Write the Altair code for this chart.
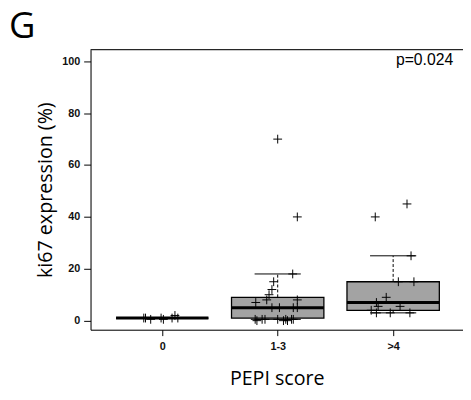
import altair as alt
import pandas as pd

# ---- summary statistics per PEPI score group ----
groups = ["0", "1-3", ">4"]
positions = [1, 2, 3]
q1 = [1, 1, 4]
median = [1, 5, 7]
q3 = [1, 9, 15]
whisker_low = [1, 0.5, 3]
whisker_high = [1, 18, 25]

# ---- individual observations (ki67 %) and horizontal jitter (category units) ----
g0_values = [1, 1, 0.5, 1, 0.5, 1, 2, 1]
g0_jitter = [-0.16, -0.145, -0.10, -0.01, 0.01, 0.085, 0.11, 0.135]
g1_values = [70, 40, 18, 15, 12, 10, 8, 7, 8, 5, 5, 5, 5,
             0.5, 0, 0.5, 0.5, 0.5, 0, 0.5, 0, 0.5, 0.5]
g1_jitter = [0, 0.17, 0.13, -0.035, -0.05, -0.075, -0.095, -0.19, 0.17,
             -0.05, 0.015, 0.135, 0.17,
             -0.195, -0.18, -0.135, -0.11, 0, 0.05, 0.07, 0.085, 0.12, 0.135]
g2_values = [45, 40, 25, 15, 15, 9, 7, 5.5, 5.5, 4, 3, 3, 3]
g2_jitter = [0.12, -0.155, 0.155, 0.045, 0.18, -0.06, -0.145, -0.13, 0.06,
             -0.19, -0.145, -0.025, 0.145]

y_ticks = [0, 20, 40, 60, 80, 100]
panel_label = "G"
p_text = "p=0.024"

box_df = pd.DataFrame({
    "group": groups, "pos": positions, "q1": q1, "median": median,
    "q3": q3, "lo": whisker_low, "hi": whisker_high,
})

pts = []
for p, vals, jit in zip(positions, [g0_values, g1_values, g2_values],
                        [g0_jitter, g1_jitter, g2_jitter]):
    for v, j in zip(vals, jit):
        pts.append({"pos": p, "jit": j, "value": v})
pts_df = pd.DataFrame(pts)

W, H = 379, 285
xscale = alt.Scale(domain=[0.379, 3.605], nice=False, zero=False)
yscale = alt.Scale(domain=[-3.5, 104.5], nice=False, zero=False)

label_expr = " : ".join(
    f"datum.value == {p} ? '{g}'" for p, g in zip(positions, groups)
) + " : ''"

x_axis = alt.Axis(
    values=positions, labelExpr=label_expr, orient="bottom",
    tickSize=6, tickColor="black", domainColor="black",
    labelFont="Liberation Sans", labelFontSize=11, labelFontWeight="bold",
    labelColor="#111", labelPadding=5, grid=False,
    title="PEPI score", titleFont="Open Sans", titleFontSize=20,
    titleFontWeight="normal", titleColor="black", titleY=50,
    titleBaseline="middle",
)
y_axis = alt.Axis(
    values=y_ticks, tickSize=7, tickColor="black", domainColor="black",
    labelFont="Liberation Sans", labelFontSize=11, labelFontWeight="bold",
    labelColor="#111", labelPadding=4, grid=False,
    title="ki67 expression (%)", titleFont="Open Sans", titleFontSize=20,
    titleFontWeight="normal", titleColor="black", titleX=-46,
    titleBaseline="middle",
)

base = alt.Chart(box_df).transform_calculate(
    xl="datum.pos - 0.4", xr="datum.pos + 0.4",
    cl="datum.pos - 0.2", cr="datum.pos + 0.2",
)

box = base.mark_bar(fill="#a3a3a3", stroke="black", strokeWidth=1.3).encode(
    x=alt.X("xl:Q", scale=xscale), x2="xr:Q",
    y=alt.Y("q1:Q", scale=yscale), y2="q3:Q",
)
med = base.mark_rule(color="black", strokeWidth=3).encode(
    x=alt.X("xl:Q", scale=xscale), x2="xr:Q",
    y=alt.Y("median:Q", scale=yscale),
)
wh_hi = base.mark_rule(color="black", strokeWidth=1, strokeDash=[3, 2]).encode(
    x=alt.X("pos:Q", scale=xscale),
    y=alt.Y("q3:Q", scale=yscale), y2="hi:Q",
)
wh_lo = base.mark_rule(color="black", strokeWidth=1, strokeDash=[3, 2]).encode(
    x=alt.X("pos:Q", scale=xscale),
    y=alt.Y("q1:Q", scale=yscale), y2="lo:Q",
)
cap_hi = base.mark_rule(color="black", strokeWidth=1).encode(
    x=alt.X("cl:Q", scale=xscale), x2="cr:Q",
    y=alt.Y("hi:Q", scale=yscale),
)
cap_lo = base.mark_rule(color="black", strokeWidth=1).encode(
    x=alt.X("cl:Q", scale=xscale), x2="cr:Q",
    y=alt.Y("lo:Q", scale=yscale),
)
points = alt.Chart(pts_df).transform_calculate(
    xp="datum.pos + datum.jit"
).mark_point(
    shape="M-1,0L1,0M0,-1L0,1", filled=False, stroke="black",
    strokeWidth=1, size=80, opacity=1,
).encode(
    x=alt.X("xp:Q", scale=xscale, axis=x_axis),
    y=alt.Y("value:Q", scale=yscale, axis=y_axis),
)

# top frame line of the plot box
frame_top = alt.Chart(pd.DataFrame({"t": [0]})).mark_rule(
    color="black", strokeWidth=1
).encode(x=alt.value(0), x2=alt.value(W), y=alt.value(0))

g_label = alt.Chart(pd.DataFrame({"t": [panel_label]})).mark_text(
    font="Open Sans", fontSize=37, align="left", baseline="alphabetic",
    color="black",
).encode(text="t:N", x=alt.value(-83), y=alt.value(-12))

p_label = alt.Chart(pd.DataFrame({"t": [p_text]})).mark_text(
    font="Liberation Sans", fontSize=16, align="right", baseline="alphabetic",
    color="black",
).encode(text="t:N", x=alt.value(369), y=alt.value(16))

chart = alt.layer(
    box, wh_hi, wh_lo, cap_hi, cap_lo, med, points, frame_top, g_label, p_label
).properties(
    width=W, height=H,
    autosize=alt.AutoSizeParams(type="none"),
    padding={"left": 84, "top": 39, "right": 0, "bottom": 60},
).configure_view(stroke=None).configure(background="white")

chart.save("out.html", embed_options={"renderer": "svg", "actions": False})
